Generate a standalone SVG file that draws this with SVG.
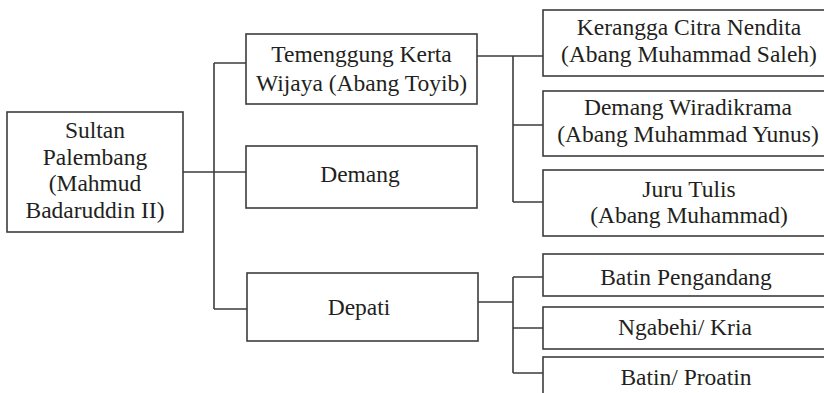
<svg xmlns="http://www.w3.org/2000/svg" width="824" height="393" viewBox="0 0 824 393">
<style>
.box{fill:#fff;stroke:#3f3b3c;stroke-width:1.6}
.ln{fill:none;stroke:#3f3b3c;stroke-width:1.6}
text{font-family:"Liberation Serif","Times New Roman",serif;font-size:23.5px;fill:#231f20;text-anchor:middle}
</style>
<rect width="824" height="393" fill="#fff"/>
<g id="connectors">
<path class="ln" d="M183 172H214M214 63V309M214 63H246M214 172H246M214 309H247"/>
<path class="ln" d="M477 56H513M513 56V202M513 56H543M513 125H543M513 202H543"/>
<path class="ln" d="M478 302H513M513 277V373M513 277H543M513 328H543M513 373H543"/>
</g>
<g id="sultan">
<rect class="box" x="7" y="112" width="176" height="120"/>
<text x="95" y="138">Sultan</text>
<text x="95" y="164.5">Palembang</text>
<text x="95" y="191">(Mahmud</text>
<text x="95" y="217.5">Badaruddin II)</text>
</g>
<g id="temenggung">
<rect class="box" x="246" y="34" width="231" height="70"/>
<text x="361.5" y="62">Temenggung Kerta</text>
<text x="361.5" y="91">Wijaya (Abang Toyib)</text>
</g>
<g id="demang">
<rect class="box" x="246" y="146" width="231" height="62"/>
<text x="360" y="182">Demang</text>
</g>
<g id="depati">
<rect class="box" x="247" y="273" width="231" height="68"/>
<text x="359" y="315">Depati</text>
</g>
<g id="kerangga">
<rect class="box" x="543" y="10" width="292" height="66"/>
<text x="689" y="35">Kerangga Citra Nendita</text>
<text x="689" y="62">(Abang Muhammad Saleh)</text>
</g>
<g id="demang-wiradikrama">
<rect class="box" x="543" y="91" width="292" height="65"/>
<text x="688" y="115">Demang Wiradikrama</text>
<text x="688" y="142">(Abang Muhammad Yunus)</text>
</g>
<g id="juru-tulis">
<rect class="box" x="543" y="170" width="292" height="66"/>
<text x="689" y="197">Juru Tulis</text>
<text x="689" y="223">(Abang Muhammad)</text>
</g>
<g id="batin-pengandang">
<rect class="box" x="543" y="254" width="292" height="42"/>
<text x="686" y="285">Batin Pengandang</text>
</g>
<g id="ngabehi">
<rect class="box" x="543" y="307" width="292" height="42"/>
<text x="685" y="335">Ngabehi/ Kria</text>
</g>
<g id="batin-proatin">
<rect class="box" x="543" y="357" width="292" height="50"/>
<text x="686" y="385">Batin/ Proatin</text>
</g>
</svg>
